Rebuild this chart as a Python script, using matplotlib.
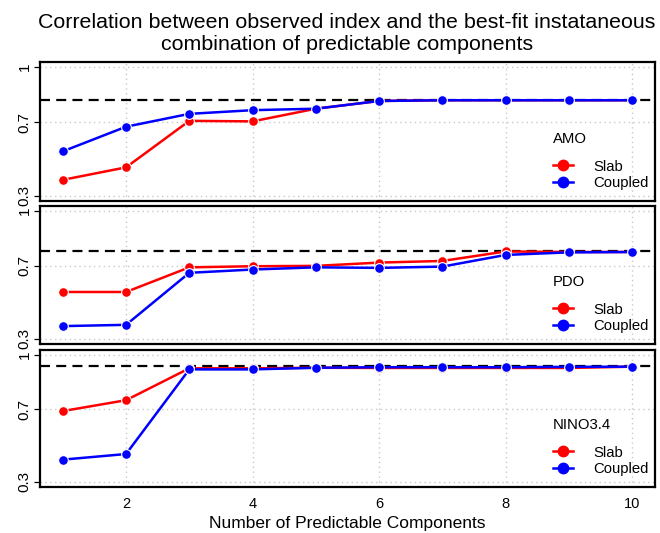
import matplotlib
matplotlib.use("Agg")
import matplotlib.pyplot as plt
from matplotlib.lines import Line2D

plt.rcParams['font.family'] = ['Liberation Sans', 'DejaVu Sans']

n_comp = [1, 2, 3, 4, 5, 6, 7, 8, 9, 10]
panels = ["AMO", "PDO", "NINO3.4"]

amo_slab = [0.387, 0.455, 0.708, 0.705, 0.774, 0.816, 0.82, 0.82, 0.82, 0.82]
amo_coupled = [0.542, 0.676, 0.746, 0.766, 0.774, 0.816, 0.82, 0.82, 0.82, 0.82]
amo_ref = 0.82

pdo_slab = [0.557, 0.557, 0.692, 0.698, 0.700, 0.718, 0.727, 0.779, 0.776, 0.776]
pdo_coupled = [0.370, 0.377, 0.662, 0.680, 0.692, 0.689, 0.696, 0.760, 0.774, 0.776]
pdo_ref = 0.779

nino_slab = [0.691, 0.751, 0.927, 0.927, 0.930, 0.929, 0.929, 0.929, 0.929, 0.936]
nino_coupled = [0.423, 0.454, 0.921, 0.921, 0.930, 0.933, 0.933, 0.933, 0.935, 0.936]
nino_ref = 0.941

slab_series = [amo_slab, pdo_slab, nino_slab]
coupled_series = [amo_coupled, pdo_coupled, nino_coupled]
ref_values = [amo_ref, pdo_ref, nino_ref]

yticks = [0.3, 0.7, 1.0]
ytick_labels = ["0.3", "0.7", "1"]
xticks = [2, 4, 6, 8, 10]
series_names = ["Slab", "Coupled"]
series_colors = ["#ff0000", "#0000ff"]

title = "Correlation between observed index and the best-fit instataneous\ncombination of predictable components"
xlabel = "Number of Predictable Components"

W, H = 660, 533
fig = plt.figure(figsize=(6.6, 5.33), dpi=100)

# pixel boxes (left, top, right, bottom)
boxes = [(40, 62, 655, 201), (40, 206, 655, 344), (40, 350, 655, 487)]

for i, (l, t, r, b) in enumerate(boxes):
    ax = fig.add_axes([l / W, 1 - b / H, (r - l) / W, (b - t) / H])
    ax.set_xlim(0.64, 10.36)
    ax.set_ylim(0.272, 1.028)
    ax.set_xticks(xticks)
    ax.set_yticks(yticks)
    ax.set_yticklabels(ytick_labels, rotation=90, va='center')
    ax.grid(True, color='#c8c8c8', linestyle=(0, (1, 2.5)), linewidth=1.0)
    ax.set_axisbelow(True)
    ax.axhline(ref_values[i], color='black', linestyle=(0, (4.5, 2.8)), linewidth=1.6, zorder=2)
    for vals, name, col in zip([slab_series[i], coupled_series[i]], series_names, series_colors):
        ax.plot(n_comp, vals, color=col, linewidth=1.8, marker='o', markersize=7,
                markerfacecolor=col, markeredgecolor='white', markeredgewidth=0.8,
                label=name, zorder=3)
    for sp in ax.spines.values():
        sp.set_linewidth(1.6)
    ax.tick_params(axis='y', length=4, width=0.9, labelsize=11, pad=2)
    ax.tick_params(axis='x', length=0, labelsize=10.5, pad=7)
    if i < 2:
        ax.tick_params(axis='x', labelbottom=False)
    handles = [Line2D([0], [0], color=c, linewidth=1.8, marker='o', markersize=7.5,
                      markerfacecolor=c, markeredgecolor=c) for c in series_colors]
    leg = ax.legend(handles, series_names, title=panels[i], loc='lower right',
                    bbox_to_anchor=(1.002, 0.025), frameon=False, fontsize=10.7,
                    title_fontsize=10.7, alignment='left', handlelength=1.4,
                    handletextpad=1.35, labelspacing=0.17, borderpad=0)
    leg._legend_box.sep = 10
    if i == 2:
        ax.set_xlabel(xlabel, fontsize=12.5, labelpad=4)

fig.text(347 / W, 1 - 13 / H, title, ha='center', va='top', fontsize=15.4, linespacing=1.22)

fig.savefig("out.png", dpi=100)
